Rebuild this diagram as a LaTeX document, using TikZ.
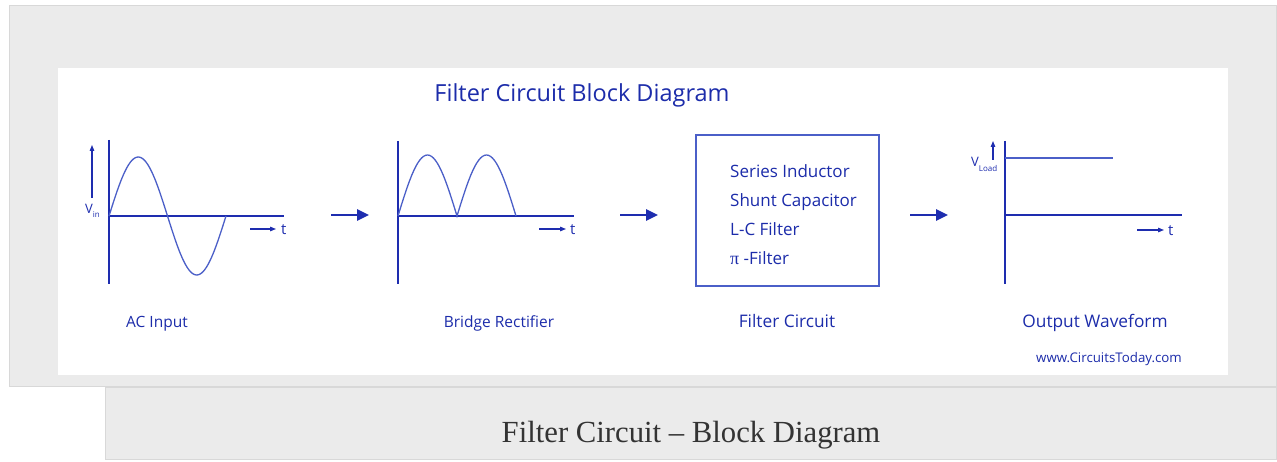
\documentclass[tikz,border=0pt]{standalone}
\usepackage{fontspec}
\setmainfont{Liberation Serif}
\newfontfamily\blk{Open Sans}
\usetikzlibrary{arrows.meta}
\definecolor{bgray}{RGB}{235,235,235}
\definecolor{egray}{RGB}{216,216,216}
\definecolor{txtblue}{RGB}{28,44,170}
\definecolor{axblue}{RGB}{30,45,175}
\definecolor{wvblue}{RGB}{75,95,200}
\definecolor{capgray}{RGB}{51,51,51}
\tikzset{
  lbl/.style={text=txtblue,font=\blk\fontsize{15.5}{18}\selectfont,inner sep=0pt,anchor=base},
  lblbig/.style={text=txtblue,font=\blk\fontsize{17.3}{20}\selectfont,inner sep=0pt,anchor=base},
  boxtxt/.style={text=txtblue,font=\blk\fontsize{17}{20}\selectfont,inner sep=0pt,anchor=base west},
  axis/.style={draw=axblue,line width=1.3pt},
  wave/.style={draw=wvblue,line width=1.3pt},
  bigarrow/.style={draw=axblue,line width=2.6pt,-{Triangle[length=12pt,width=11pt]}},
  tarrow/.style={draw=axblue,line width=1.2pt,-{Triangle[length=6pt,width=4.5pt]}},
  tlabel/.style={text=axblue,font=\blk\fontsize{15}{18}\selectfont,inner sep=0pt,anchor=base west}
}
\begin{document}
\begin{tikzpicture}[x=1pt,y=-1pt]
\useasboundingbox (0,0) rectangle (1277,462);
% backgrounds
\fill[bgray,draw=egray,line width=1pt] (9,6) rectangle (1276.5,386);
\fill[white] (58,68) rectangle (1228,375);
\fill[bgray,draw=egray,line width=1pt] (105,387) rectangle (1276.5,459.5);
% title
\node[text=txtblue,font=\blk\fontsize{23.5}{26}\selectfont,inner sep=0pt,anchor=base] (title) at (582,102) {Filter Circuit Block Diagram};
% ---- panel 1: AC input
\coordinate (a1t) at (109,140); \coordinate (a1b) at (109,284);
\coordinate (a1l) at (109,216); \coordinate (a1r) at (284,216);
\draw[axis] (a1t) -- (a1b);
\draw[axis] (a1l) -- (a1r);
\draw[wave] plot[domain=0:360,samples=73] ({109+\x/360*117},{216-59*sin(\x)});
\coordinate (v1s) at (92,198); \coordinate (v1e) at (92,145);
\draw[tarrow] (v1s) -- (v1e);
\node[text=axblue,font=\blk\fontsize{13}{16}\selectfont,inner sep=0pt,anchor=base west] (vin) at (85,214) {V\raisebox{-0.5ex}{\fontsize{8}{9}\selectfont in}};
\coordinate (t1s) at (250,229); \coordinate (t1e) at (276,229);
\draw[tarrow] (t1s) -- (t1e);
\node[tlabel] (t1) at (281,235) {t};
\node[lbl] (lab1) at (157,327) {AC Input};
% arrow 1
\coordinate (g1s) at (331,215); \coordinate (g1e) at (369,215);
\draw[bigarrow] (g1s) -- (g1e);
% ---- panel 2: bridge rectifier
\coordinate (a2t) at (398,141); \coordinate (a2b) at (398,284);
\coordinate (a2l) at (398,216); \coordinate (a2r) at (574,216);
\draw[axis] (a2t) -- (a2b);
\draw[axis] (a2l) -- (a2r);
\draw[wave] plot[domain=0:360,samples=61] ({398+\x/360*118},{216-61*abs(sin(\x))});
\coordinate (t2s) at (539,229); \coordinate (t2e) at (566,229);
\draw[tarrow] (t2s) -- (t2e);
\node[tlabel] (t2) at (570,235) {t};
\node[lbl] (lab2) at (499,327) {Bridge Rectifier};
% arrow 2
\coordinate (g2s) at (620,215); \coordinate (g2e) at (658,215);
\draw[bigarrow] (g2s) -- (g2e);
% ---- panel 3: filter box
\node[draw=wvblue,line width=1.3pt,minimum width=183pt,minimum height=151pt,inner sep=0pt] (fbox) at (787.5,210.5) {};
\node[boxtxt] (f1) at (730,178) {Series Inductor};
\node[boxtxt] (f2) at (730,207) {Shunt Capacitor};
\node[boxtxt] (f3) at (730,236) {L-C Filter};
\node[boxtxt] (f4) at (730,265) {{\rmfamily\fontsize{18}{20}\selectfont π} -Filter};
\node[lblbig] (lab3) at (787,327) {Filter Circuit};
% arrow 3
\coordinate (g3s) at (910,215); \coordinate (g3e) at (948,215);
\draw[bigarrow] (g3s) -- (g3e);
% ---- panel 4: output
\coordinate (a4t) at (1005,141); \coordinate (a4b) at (1005,284);
\coordinate (a4l) at (1005,215); \coordinate (a4r) at (1182,215);
\draw[axis] (a4t) -- (a4b);
\draw[axis] (a4l) -- (a4r);
\coordinate (dcl) at (1005,158); \coordinate (dcr) at (1113,158);
\draw[wave] (dcl) -- (dcr);
\coordinate (v4s) at (993,160); \coordinate (v4e) at (993,141);
\draw[tarrow] (v4s) -- (v4e);
\node[text=axblue,font=\blk\fontsize{13}{16}\selectfont,inner sep=0pt,anchor=base west] (vload) at (971,167) {V\raisebox{-0.6ex}{\fontsize{8}{9}\selectfont Load}};
\coordinate (t4s) at (1137,230); \coordinate (t4e) at (1164,230);
\draw[tarrow] (t4s) -- (t4e);
\node[tlabel] (t4) at (1168,236) {t};
\node[lblbig] (lab4) at (1095,327) {Output Waveform};
\node[text=txtblue,font=\blk\fontsize{13.3}{15}\selectfont,inner sep=0pt,anchor=base] (www) at (1109,362) {www.CircuitsToday.com};
% caption
\node[text=capgray,font=\fontsize{30.7}{33}\selectfont,inner sep=0pt,anchor=base] (cap) at (691,442) {Filter Circuit -- Block Diagram};
\end{tikzpicture}
\end{document}
